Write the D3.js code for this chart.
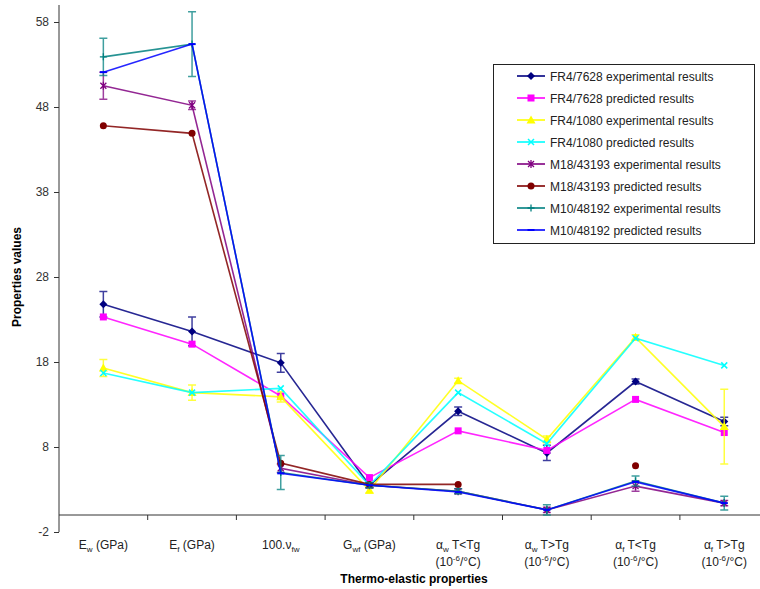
<!DOCTYPE html>
<html>
<head>
<meta charset="utf-8">
<script src="https://cdn.jsdelivr.net/npm/d3@7"></script>
<style>
  body { margin: 0; background: #fff; }
  text { font-family: "Liberation Sans", Arial, sans-serif; }
</style>
</head>
<body>
<svg id="chart" width="760" height="589"></svg>
<script>
const categories = ["E_{w} (GPa)", "E_{f} (GPa)", "100.ν_{fw}", "G_{wf} (GPa)",
  "α_{w} T<Tg", "α_{w} T>Tg", "α_{f} T<Tg", "α_{f} T>Tg"]
const categoryUnits = ["", "", "", "", "(10^{-6}/°C)", "(10^{-6}/°C)", "(10^{-6}/°C)", "(10^{-6}/°C)"]

const yTicks = [-2, 8, 18, 28, 38, 48, 58]

const fr4_7628_exp = [24.8, 21.6, 17.9, 3.5, 12.2, 7.3, 15.7, 11.0]
const fr4_7628_exp_err = [1.5, 1.7, 1.1, 0.3, 0.5, 0.9, 0.3, 0.5]
const fr4_7628_pred = [23.3, 20.1, 14.0, 4.4, 9.9, 7.6, 13.6, 9.7]
const fr4_1080_exp = [17.3, 14.4, 13.9, 2.9, 15.8, 8.9, 20.9, 10.4]
const fr4_1080_exp_err = [1.0, 0.9, 0.6, 0.3, 0.3, 0.4, 0.3, 4.4]
const fr4_1080_pred = [16.7, 14.4, 14.9, 3.5, 14.4, 8.4, 20.8, 17.6]
const m18_exp = [50.5, 48.2, 5.5, 3.5, 2.8, 0.6, 3.4, 1.4]
const m18_exp_err = [1.6, 0.5, 0.5, 0.3, 0.3, 0.3, 0.6, 0.3]
const m18_pred = [45.8, 44.9, 6.1, 3.6, 3.6, null, 5.8, null]
const m10_exp = [53.9, 55.4, 5.0, 3.5, 2.8, 0.6, 4.0, 1.4]
const m10_exp_err = [2.2, 3.8, 2.0, 0.3, 0.3, 0.6, 0.6, 0.8]
const m10_pred = [52.1, 55.4, 4.9, 3.5, 2.7, 0.6, 3.9, 1.4]

const series = [
  { name: "FR4/7628 experimental results", values: fr4_7628_exp, err: fr4_7628_exp_err, color: "#000080", marker: "diamond" },
  { name: "FR4/7628 predicted results", values: fr4_7628_pred, color: "#ff00ff", marker: "square" },
  { name: "FR4/1080 experimental results", values: fr4_1080_exp, err: fr4_1080_exp_err, color: "#ffff00", marker: "triangle" },
  { name: "FR4/1080 predicted results", values: fr4_1080_pred, color: "#00ffff", marker: "x" },
  { name: "M18/43193 experimental results", values: m18_exp, err: m18_exp_err, color: "#800080", marker: "star" },
  { name: "M18/43193 predicted results", values: m18_pred, color: "#800000", marker: "circle" },
  { name: "M10/48192 experimental results", values: m10_exp, err: m10_exp_err, color: "#008080", marker: "plus" },
  { name: "M10/48192 predicted results", values: m10_pred, color: "#0000ff", marker: "dash" }
]

const svg = d3.select("#chart")

const x = d3.scaleBand().domain(categories).range([59, 768.6])
const cx = c => x(c) + x.bandwidth() / 2
const y = d3.scaleLinear().domain([-2, 60]).range([532, 5])

// rich text: _{..} subscript, ^{..} superscript
function richText(sel, str) {
  let back = 0
  str.split(/(_\{[^}]*\}|\^\{[^}]*\})/).filter(s => s).forEach(part => {
    if (part.startsWith("_{")) {
      sel.append("tspan").attr("font-size", 8).attr("dy", 3 + back).text(part.slice(2, -1))
      back = -3
    } else if (part.startsWith("^{")) {
      sel.append("tspan").attr("font-size", 8).attr("dy", -5 + back).text(part.slice(2, -1))
      back = 5
    } else {
      sel.append("tspan").attr("dy", back).text(part)
      back = 0
    }
  })
}

// y axis
const yAxis = svg.append("g")
  .attr("transform", "translate(59,0)")
  .call(d3.axisLeft(y).tickValues(yTicks).tickFormat(d => String(d)).tickSize(5).tickSizeOuter(0).tickPadding(5))
yAxis.select(".domain").attr("stroke", "#333").attr("d", `M0,${y(60)}V${y(-2)}`)
yAxis.selectAll(".tick line").attr("stroke", "#333")
yAxis.selectAll(".tick text").attr("font-size", 12).attr("fill", "#333")
  .attr("font-family", "Liberation Sans, Arial, sans-serif")

// x axis at value 0
const xAxis = svg.append("g").attr("transform", `translate(0,${y(0)})`)
xAxis.append("line").attr("x1", 59).attr("x2", 768.6).attr("stroke", "#333")
xAxis.selectAll("line.tk")
  .data(categories.slice(1))
  .join("line")
  .attr("class", "tk")
  .attr("x1", d => x(d)).attr("x2", d => x(d))
  .attr("y1", 0).attr("y2", 5)
  .attr("stroke", "#333")

svg.append("g")
  .selectAll("text")
  .data(categories)
  .join("text")
  .attr("x", d => cx(d))
  .attr("y", 549)
  .attr("text-anchor", "middle")
  .attr("font-size", 12)
  .attr("fill", "#222")
  .each(function(d) { richText(d3.select(this), d) })

svg.append("g")
  .selectAll("text")
  .data(categories.filter((d, i) => categoryUnits[i]))
  .join("text")
  .attr("x", d => cx(d))
  .attr("y", 566)
  .attr("text-anchor", "middle")
  .attr("font-size", 12)
  .attr("fill", "#222")
  .each(function(d) { richText(d3.select(this), categoryUnits[categories.indexOf(d)]) })

svg.append("text")
  .attr("x", 414)
  .attr("y", 583)
  .attr("text-anchor", "middle")
  .attr("font-size", 12)
  .attr("font-weight", "bold")
  .text("Thermo-elastic properties")

svg.append("text")
  .attr("transform", "translate(21,277) rotate(-90)")
  .attr("text-anchor", "middle")
  .attr("font-size", 12)
  .attr("font-weight", "bold")
  .text("Properties values")

// markers
function drawMarker(g, type, color) {
  if (type === "diamond") {
    g.append("path").attr("d", "M0,-4L4,0L0,4L-4,0Z").attr("fill", color)
  } else if (type === "square") {
    g.append("rect").attr("x", -3.5).attr("y", -3.5).attr("width", 7).attr("height", 7).attr("fill", color)
  } else if (type === "triangle") {
    g.append("path").attr("d", "M0,-4.5L4.5,3.5L-4.5,3.5Z").attr("fill", color)
  } else if (type === "x") {
    g.append("path").attr("d", "M-3,-3L3,3M-3,3L3,-3").attr("stroke", color).attr("stroke-width", 1.5)
  } else if (type === "star") {
    g.append("path").attr("d", "M-3,-3L3,3M-3,3L3,-3M0,-4V4").attr("stroke", color).attr("stroke-width", 1.3)
  } else if (type === "circle") {
    g.append("circle").attr("r", 3.5).attr("fill", color)
  } else if (type === "plus") {
    g.append("path").attr("d", "M-3.5,0H3.5M0,-3.5V3.5").attr("stroke", color).attr("stroke-width", 1.3)
  } else if (type === "dash") {
    g.append("path").attr("d", "M-3.5,0H3.5").attr("stroke", color).attr("stroke-width", 2)
  }
}

const line = d3.line()
  .defined(d => d.v !== null)
  .x(d => cx(d.c))
  .y(d => y(d.v))

series.forEach(s => {
  const pts = s.values.map((v, i) => ({ c: categories[i], v: v, e: s.err ? s.err[i] : 0 }))
  const g = svg.append("g")

  if (s.err) {
    const eb = g.append("g").attr("stroke", s.color).attr("stroke-width", 1.5).attr("opacity", 0.75)
    pts.filter(d => d.v !== null).forEach(d => {
      const px = cx(d.c)
      eb.append("path")
        .attr("fill", "none")
        .attr("d", `M${px},${y(d.v + d.e)}V${y(d.v - d.e)}M${px - 4},${y(d.v + d.e)}H${px + 4}M${px - 4},${y(d.v - d.e)}H${px + 4}`)
    })
  }

  g.append("path")
    .datum(pts)
    .attr("fill", "none")
    .attr("stroke", s.color)
    .attr("stroke-width", 1.6)
    .attr("opacity", 0.85)
    .attr("d", line)

  pts.filter(d => d.v !== null).forEach(d => {
    drawMarker(g.append("g").attr("transform", `translate(${cx(d.c)},${y(d.v)})`), s.marker, s.color)
  })
})

// legend
const legend = svg.append("g")
legend.append("rect")
  .attr("x", 493.5).attr("y", 64.5).attr("width", 261).attr("height", 179)
  .attr("fill", "#fff").attr("stroke", "#222")

const items = legend.selectAll("g.item")
  .data(series)
  .join("g")
  .attr("class", "item")
  .attr("transform", (d, i) => `translate(0,${76 + i * 22})`)

items.append("line")
  .attr("x1", 517).attr("x2", 545)
  .attr("stroke", d => d.color).attr("stroke-width", 1.6)
items.each(function(d) {
  drawMarker(d3.select(this).append("g").attr("transform", "translate(531,0)"), d.marker, d.color)
})
items.append("text")
  .attr("x", 550)
  .attr("y", 4.5)
  .attr("font-size", 12)
  .attr("fill", "#222")
  .text(d => d.name)
</script>
</body>
</html>
